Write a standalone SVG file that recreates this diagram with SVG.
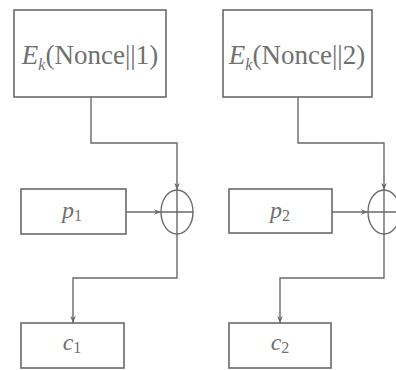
<svg xmlns="http://www.w3.org/2000/svg" width="396" height="370" viewBox="0 0 396 370">
<style>
.box{fill:#fff;stroke:#6a6a6a;stroke-width:1.6}
.ln{fill:none;stroke:#6a6a6a;stroke-width:1.4}
.xor{fill:none;stroke:#6a6a6a;stroke-width:1.4}
.t{font-family:"Liberation Serif","DejaVu Serif",serif;fill:#707070}
.big{font-size:27px}
.sm{font-size:24px}
.it{font-style:italic}
.up{font-style:normal}
</style>
<defs>
<marker id="ah" viewBox="0 0 10 10" refX="10" refY="5" markerWidth="7" markerHeight="7" orient="auto" markerUnits="userSpaceOnUse">
<path d="M0,1 L10,5 L0,9 L3,5 Z" fill="#6a6a6a"/>
</marker>
</defs>
<rect width="396" height="370" fill="#fff"/>
<g id="connectors">
<path class="ln" d="M91,97 V143 H177 V190" marker-end="url(#ah)"/>
<path class="ln" d="M126,212 H161" marker-end="url(#ah)"/>
<path class="ln" d="M177,234 V278 H73 V323" marker-end="url(#ah)"/>
<path class="ln" d="M298,97 V143 H384 V190" marker-end="url(#ah)"/>
<path class="ln" d="M332,212 H368" marker-end="url(#ah)"/>
<path class="ln" d="M384,234 V278 H280 V323" marker-end="url(#ah)"/>
</g>
<g id="enc1">
<rect class="box" x="14" y="10" width="152" height="87"/>
<text class="t big" x="90" y="64" text-anchor="middle"><tspan class="it">E</tspan><tspan class="it" font-size="16" dy="6">k</tspan><tspan dy="-6">(Nonce||1)</tspan></text>
</g>
<g id="enc2">
<rect class="box" x="223" y="10" width="149" height="87"/>
<text class="t big" x="297" y="64" text-anchor="middle"><tspan class="it">E</tspan><tspan class="it" font-size="16" dy="6">k</tspan><tspan dy="-6">(Nonce||2)</tspan></text>
</g>
<g id="p1">
<rect class="box" x="21" y="189" width="105" height="45"/>
<text class="t sm it" x="72" y="218" text-anchor="middle">p<tspan class="up" font-size="16" dy="3">1</tspan></text>
</g>
<g id="p2">
<rect class="box" x="229" y="189" width="103" height="44"/>
<text class="t sm it" x="280" y="218" text-anchor="middle">p<tspan class="up" font-size="16" dy="3">2</tspan></text>
</g>
<g id="xor1">
<ellipse class="xor" cx="177" cy="212" rx="16" ry="22"/>
<path class="xor" d="M161,212 H193 M177,190 V234"/>
</g>
<g id="xor2">
<ellipse class="xor" cx="384" cy="212" rx="16" ry="22"/>
<path class="xor" d="M368,212 H400 M384,190 V234"/>
</g>
<g id="c1">
<rect class="box" x="21" y="323" width="103" height="45"/>
<text class="t sm it" x="72" y="350" text-anchor="middle">c<tspan class="up" font-size="16" dy="3">1</tspan></text>
</g>
<g id="c2">
<rect class="box" x="229" y="323" width="102" height="45"/>
<text class="t sm it" x="280" y="350" text-anchor="middle">c<tspan class="up" font-size="16" dy="3">2</tspan></text>
</g>
</svg>
